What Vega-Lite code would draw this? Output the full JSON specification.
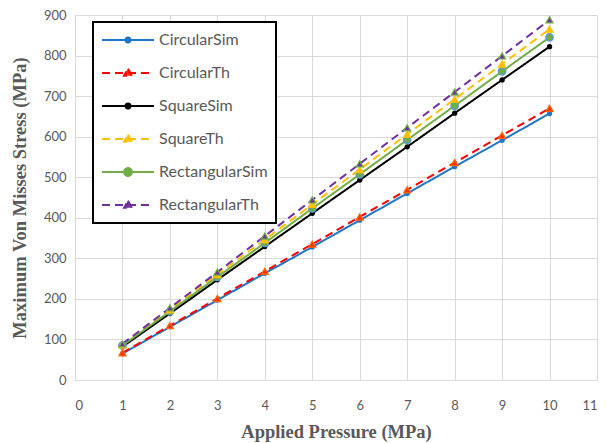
{
  "$schema": "https://vega.github.io/schema/vega-lite/v6.json",
  "width": 522,
  "height": 365,
  "autosize": {"type": "none"},
  "padding": {"left": 75, "top": 15, "right": 10, "bottom": 63},
  "background": "white",
  "config": {
    "view": {"stroke": null},
    "font": "Lato",
    "axis": {
      "grid": true,
      "gridColor": "#D9D9D9",
      "gridWidth": 1,
      "domainColor": "#D9D9D9",
      "ticks": false,
      "labelFont": "Lato",
      "labelFontSize": 13,
      "labelColor": "#595959",
      "titleFont": "Liberation Serif",
      "titleFontSize": 18.5,
      "titleFontWeight": "bold",
      "titleColor": "#595959"
    }
  },
  "data": {
    "values": [
      {"x": 1, "y": 65, "s": "CircularSim"},
      {"x": 2, "y": 131, "s": "CircularSim"},
      {"x": 3, "y": 197, "s": "CircularSim"},
      {"x": 4, "y": 263, "s": "CircularSim"},
      {"x": 5, "y": 328, "s": "CircularSim"},
      {"x": 6, "y": 394, "s": "CircularSim"},
      {"x": 7, "y": 460, "s": "CircularSim"},
      {"x": 8, "y": 526, "s": "CircularSim"},
      {"x": 9, "y": 591, "s": "CircularSim"},
      {"x": 10, "y": 657, "s": "CircularSim"},
      {"x": 1, "y": 67, "s": "CircularTh"},
      {"x": 2, "y": 134, "s": "CircularTh"},
      {"x": 3, "y": 201, "s": "CircularTh"},
      {"x": 4, "y": 268, "s": "CircularTh"},
      {"x": 5, "y": 335, "s": "CircularTh"},
      {"x": 6, "y": 402, "s": "CircularTh"},
      {"x": 7, "y": 469, "s": "CircularTh"},
      {"x": 8, "y": 536, "s": "CircularTh"},
      {"x": 9, "y": 603, "s": "CircularTh"},
      {"x": 10, "y": 670, "s": "CircularTh"},
      {"x": 1, "y": 82, "s": "SquareSim"},
      {"x": 2, "y": 164, "s": "SquareSim"},
      {"x": 3, "y": 247, "s": "SquareSim"},
      {"x": 4, "y": 329, "s": "SquareSim"},
      {"x": 5, "y": 411, "s": "SquareSim"},
      {"x": 6, "y": 493, "s": "SquareSim"},
      {"x": 7, "y": 575, "s": "SquareSim"},
      {"x": 8, "y": 658, "s": "SquareSim"},
      {"x": 9, "y": 740, "s": "SquareSim"},
      {"x": 10, "y": 822, "s": "SquareSim"},
      {"x": 1, "y": 87, "s": "SquareTh"},
      {"x": 2, "y": 173, "s": "SquareTh"},
      {"x": 3, "y": 260, "s": "SquareTh"},
      {"x": 4, "y": 346, "s": "SquareTh"},
      {"x": 5, "y": 433, "s": "SquareTh"},
      {"x": 6, "y": 519, "s": "SquareTh"},
      {"x": 7, "y": 606, "s": "SquareTh"},
      {"x": 8, "y": 692, "s": "SquareTh"},
      {"x": 9, "y": 779, "s": "SquareTh"},
      {"x": 10, "y": 865, "s": "SquareTh"},
      {"x": 1, "y": 85, "s": "RectangularSim"},
      {"x": 2, "y": 169, "s": "RectangularSim"},
      {"x": 3, "y": 254, "s": "RectangularSim"},
      {"x": 4, "y": 338, "s": "RectangularSim"},
      {"x": 5, "y": 423, "s": "RectangularSim"},
      {"x": 6, "y": 507, "s": "RectangularSim"},
      {"x": 7, "y": 592, "s": "RectangularSim"},
      {"x": 8, "y": 676, "s": "RectangularSim"},
      {"x": 9, "y": 761, "s": "RectangularSim"},
      {"x": 10, "y": 845, "s": "RectangularSim"},
      {"x": 1, "y": 89, "s": "RectangularTh"},
      {"x": 2, "y": 178, "s": "RectangularTh"},
      {"x": 3, "y": 266, "s": "RectangularTh"},
      {"x": 4, "y": 355, "s": "RectangularTh"},
      {"x": 5, "y": 444, "s": "RectangularTh"},
      {"x": 6, "y": 533, "s": "RectangularTh"},
      {"x": 7, "y": 622, "s": "RectangularTh"},
      {"x": 8, "y": 710, "s": "RectangularTh"},
      {"x": 9, "y": 799, "s": "RectangularTh"},
      {"x": 10, "y": 888, "s": "RectangularTh"}
    ]
  },
  "encoding": {
    "x": {
      "field": "x", "type": "quantitative",
      "scale": {"domain": [0, 11], "nice": false},
      "axis": {"title": "Applied Pressure (MPa)", "values": [0,1,2,3,4,5,6,7,8,9,10,11], "labelPadding": 19, "titlePadding": 10}
    },
    "y": {
      "field": "y", "type": "quantitative",
      "scale": {"domain": [0, 900], "nice": false},
      "axis": {"title": "Maximum Von Misses Stress (MPa)", "values": [0,100,200,300,400,500,600,700,800,900], "labelPadding": 9, "titlePadding": 14}
    }
  },
  "layer": [
    {
      "mark": {"type": "line", "strokeWidth": 2},
      "encoding": {
        "color": {
          "field": "s", "type": "nominal", "title": null,
          "scale": {
            "domain": ["CircularSim", "CircularTh", "SquareSim", "SquareTh", "RectangularSim", "RectangularTh"],
            "range": ["#2077C6", "#FF0000", "#000000", "#FFC000", "#70AD47", "#7030A0"]
          },
          "legend": {
            "orient": "none",
            "legendX": 18,
            "legendY": 7,
            "padding": 8,
            "strokeColor": "#000000",
            "fillColor": "white",
            "symbolSize": 2704,
            "symbolStrokeWidth": 2,
            "clipHeight": 20,
            "rowPadding": 13,
            "labelOffset": 4,
            "labelFont": "Lato",
            "labelFontSize": 16,
            "labelColor": "#595959",
            "encode": {
              "legend": {
                "update": {
                  "strokeWidth": {"value": 2}
                }
              },
              "symbols": {
                "update": {
                  "size": {"value": 2704},
                  "shape": {"signal": "indexof(['CircularSim','SquareSim','RectangularSim'], datum.value) >= 0 ? (datum.value === 'RectangularSim' ? 'M-1,0H1M0.15,0A0.15,0.15,0,1,1,-0.15,0A0.15,0.15,0,1,1,0.15,0Z' : 'M-1,0H1M0.1,0A0.1,0.1,0,1,1,-0.1,0A0.1,0.1,0,1,1,0.1,0Z') : 'M-1,0H1M0,-0.16L0.15,0.11L-0.15,0.11Z'"},
                  "stroke": {"signal": "datum.value === 'CircularSim' ? '#2077C6' : datum.value === 'CircularTh' ? '#FF0000' : datum.value === 'SquareSim' ? '#000000' : datum.value === 'SquareTh' ? '#FFC000' : datum.value === 'RectangularSim' ? '#70AD47' : '#7030A0'"},
                  "strokeDash": {"signal": "indexof(['CircularTh','SquareTh','RectangularTh'], datum.value) >= 0 ? [8, 5] : [1, 0]"},
                  "strokeWidth": {"value": 2},
                  "opacity": {"value": 1},
                  "strokeOpacity": {"value": 1},
                  "fillOpacity": {"value": 1},
                  "fill": {"signal": "datum.value === 'CircularSim' ? '#2077C6' : datum.value === 'CircularTh' ? '#FF3300' : datum.value === 'SquareSim' ? '#000000' : datum.value === 'SquareTh' ? '#FFC000' : datum.value === 'RectangularSim' ? '#70AD47' : '#7030A0'"}
                }
              }
            }
          }
        },
        "strokeDash": {
          "field": "s", "type": "nominal", "title": null,
          "scale": {
            "domain": ["CircularSim", "CircularTh", "SquareSim", "SquareTh", "RectangularSim", "RectangularTh"],
            "range": [[1, 0], [8, 5], [1, 0], [8, 5], [1, 0], [8, 5]]
          }
        }
      }
    },
    {
      "transform": [{"filter": "datum.s === 'CircularSim' || datum.s === 'SquareSim'"}],
      "mark": {"type": "point", "shape": "circle", "filled": true, "size": 28, "opacity": 1},
      "encoding": {
        "fill": {
          "field": "s", "type": "nominal", "legend": null,
          "scale": {
            "domain": ["CircularSim", "CircularTh", "SquareSim", "SquareTh", "RectangularSim", "RectangularTh"],
            "range": ["#2077C6", "#FF3300", "#000000", "#FFC000", "#70AD47", "#7030A0"]
          }
        }
      }
    },
    {
      "transform": [{"filter": "datum.s === 'RectangularSim'"}],
      "mark": {"type": "point", "shape": "circle", "filled": true, "size": 55, "fill": "#70AD47", "stroke": "#5B9BD5", "strokeWidth": 1.3, "opacity": 1}
    },
    {
      "transform": [{"filter": "datum.s === 'CircularTh' || datum.s === 'SquareTh' || datum.s === 'RectangularTh'"}],
      "mark": {"type": "point", "shape": "triangle-up", "filled": true, "size": 50, "strokeWidth": 1.2, "opacity": 1},
      "encoding": {
        "fill": {
          "field": "s", "type": "nominal", "legend": null,
          "scale": {
            "domain": ["CircularSim", "CircularTh", "SquareSim", "SquareTh", "RectangularSim", "RectangularTh"],
            "range": ["#2077C6", "#FF3300", "#000000", "#FFC000", "#70AD47", "#7030A0"]
          }
        },
        "stroke": {
          "field": "s", "type": "nominal", "legend": null,
          "scale": {
            "domain": ["CircularSim", "CircularTh", "SquareSim", "SquareTh", "RectangularSim", "RectangularTh"],
            "range": ["#2077C6", "#FF6600", "#000000", "#FFC000", "#5B9BD5", "#70AD47"]
          }
        }
      }
    }
  ]
}
